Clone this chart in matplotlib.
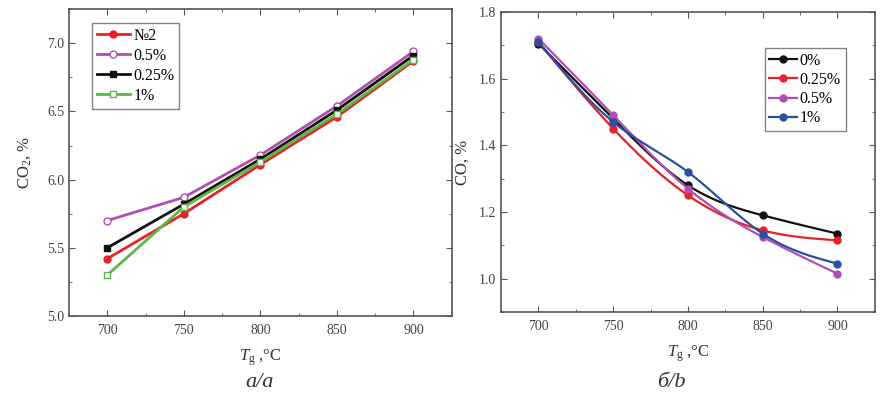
import matplotlib
matplotlib.use('Agg')
import matplotlib.pyplot as plt
from matplotlib.ticker import MultipleLocator, FormatStrFormatter
import numpy as np

plt.rcParams['font.family'] = ['Liberation Serif', 'DejaVu Serif']
plt.rcParams['mathtext.fontset'] = 'custom'
plt.rcParams['mathtext.rm'] = 'Liberation Serif'
plt.rcParams['mathtext.it'] = 'Liberation Serif:italic'

# данные
temps = [700, 750, 800, 850, 900]

# а) CO2
co2_labels = ['№2', '0.5%', '0.25%', '1%']
co2_n2 = [5.42, 5.75, 6.11, 6.46, 6.87]
co2_05 = [5.70, 5.87, 6.18, 6.54, 6.94]
co2_025 = [5.50, 5.82, 6.15, 6.51, 6.91]
co2_1 = [5.30, 5.80, 6.13, 6.48, 6.88]

# б) CO
co_labels = ['0%', '0.25%', '0.5%', '1%']
co_0 = [1.705, 1.48, 1.28, 1.19, 1.135]
co_025 = [1.71, 1.45, 1.25, 1.145, 1.115]
co_05 = [1.72, 1.49, 1.27, 1.125, 1.015]
co_1 = [1.71, 1.47, 1.32, 1.135, 1.045]


def smooth(x, y, n=200):
    # natural cubic spline, only for drawing the line
    x = np.asarray(x, float)
    y = np.asarray(y, float)
    k = len(x)
    h = np.diff(x)
    A = np.zeros((k, k))
    b = np.zeros(k)
    A[0, 0] = A[-1, -1] = 1
    for i in range(1, k - 1):
        A[i, i - 1] = h[i - 1]
        A[i, i] = 2 * (h[i - 1] + h[i])
        A[i, i + 1] = h[i]
        b[i] = 6 * ((y[i + 1] - y[i]) / h[i] - (y[i] - y[i - 1]) / h[i - 1])
    M = np.linalg.solve(A, b)
    xs = np.linspace(x[0], x[-1], n)
    idx = np.clip(np.searchsorted(x, xs) - 1, 0, k - 2)
    x0, x1 = x[idx], x[idx + 1]
    hh = x1 - x0
    t0, t1 = x1 - xs, xs - x0
    ys = (M[idx] * t0 ** 3 / (6 * hh) + M[idx + 1] * t1 ** 3 / (6 * hh)
          + (y[idx] / hh - M[idx] * hh / 6) * t0
          + (y[idx + 1] / hh - M[idx + 1] * hh / 6) * t1)
    return xs, ys


def style_axes(ax):
    for s in ax.spines.values():
        s.set_color('#555555')
        s.set_linewidth(1.2)
    ax.tick_params(which='both', direction='in', top=True, right=True,
                   colors='#555555', labelcolor='#444444', labelsize=10)
    ax.tick_params(which='major', length=4)
    ax.tick_params(which='minor', length=2)
    ax.tick_params(axis='x', pad=6)
    ax.xaxis.set_major_locator(MultipleLocator(50))
    ax.xaxis.set_minor_locator(MultipleLocator(25))


fig = plt.figure(figsize=(8.9, 3.99), dpi=100)

# --- левый график ---
ax1 = fig.add_axes([0.0775, 0.208, 0.430, 0.769])
lw = 2
ax1.plot(temps, co2_n2, color='#e8202a', lw=lw, marker='o', ms=5,
         label=co2_labels[0])
ax1.plot(temps, co2_05, color='#b04fb0', lw=lw, marker='o', ms=5,
         mfc='white', label=co2_labels[1])
ax1.plot(temps, co2_025, color='#111111', lw=lw, marker='s', ms=5,
         label=co2_labels[2])
ax1.plot(temps, co2_1, color='#5ab848', lw=lw, marker='s', ms=5,
         mfc='white', label=co2_labels[3])
ax1.set_xlim(675, 925)
ax1.set_ylim(5.0, 7.25)
ax1.yaxis.set_major_locator(MultipleLocator(0.5))
ax1.yaxis.set_minor_locator(MultipleLocator(0.25))
ax1.yaxis.set_major_formatter(FormatStrFormatter('%.1f'))
style_axes(ax1)
ax1.set_ylabel('CO$_2$, %', fontsize=12, color='#333333', labelpad=10)
ax1.set_xlabel(r'$T_{\mathrm{g}}$ ,°C', fontsize=12, color='#333333',
               labelpad=7)
leg1 = ax1.legend(loc='upper left', bbox_to_anchor=(0.06, 0.955),
                  fontsize=11.5, frameon=True, fancybox=False,
                  edgecolor='#666666', handlelength=2.1, handletextpad=0.2,
                  labelspacing=0.25, borderpad=0.3, borderaxespad=0)
leg1.get_frame().set_linewidth(1.0)
fig.text(0.292, 0.03, 'а/a', fontsize=16, style='italic', ha='center',
         color='#333333')

# --- правый график ---
ax2 = fig.add_axes([0.563, 0.218, 0.420, 0.752])
for ys, c, lab in [(co_0, '#111111', co_labels[0]),
                   (co_025, '#e8202a', co_labels[1]),
                   (co_05, '#b04fb0', co_labels[2]),
                   (co_1, '#2a50a0', co_labels[3])]:
    xs_s, ys_s = smooth(temps, ys)
    ax2.plot(xs_s, ys_s, color=c, lw=1.6)
    ax2.plot(temps, ys, ls='none', marker='o', ms=5, color=c)
    ax2.plot([], [], color=c, lw=1.6, marker='o', ms=5, label=lab)
ax2.set_xlim(675, 925)
ax2.set_ylim(0.9, 1.8)
ax2.yaxis.set_major_locator(MultipleLocator(0.2))
ax2.yaxis.set_minor_locator(MultipleLocator(0.1))
ax2.yaxis.set_major_formatter(FormatStrFormatter('%.1f'))
style_axes(ax2)
ax2.set_ylabel('CO, %', fontsize=12, color='#333333', labelpad=6)
ax2.set_xlabel(r'$T_{\mathrm{g}}$ ,°C', fontsize=12, color='#333333',
               labelpad=7)
leg2 = ax2.legend(loc='upper left', bbox_to_anchor=(0.705, 0.88),
                  fontsize=11.5, frameon=True, fancybox=False,
                  edgecolor='#666666', handlelength=1.7, handletextpad=0.2,
                  labelspacing=0.2, borderpad=0.3, borderaxespad=0)
leg2.get_frame().set_linewidth(1.0)
fig.text(0.754, 0.03, 'б/b', fontsize=16, style='italic', ha='center',
         color='#333333')

plt.savefig('out.png', dpi=100)
